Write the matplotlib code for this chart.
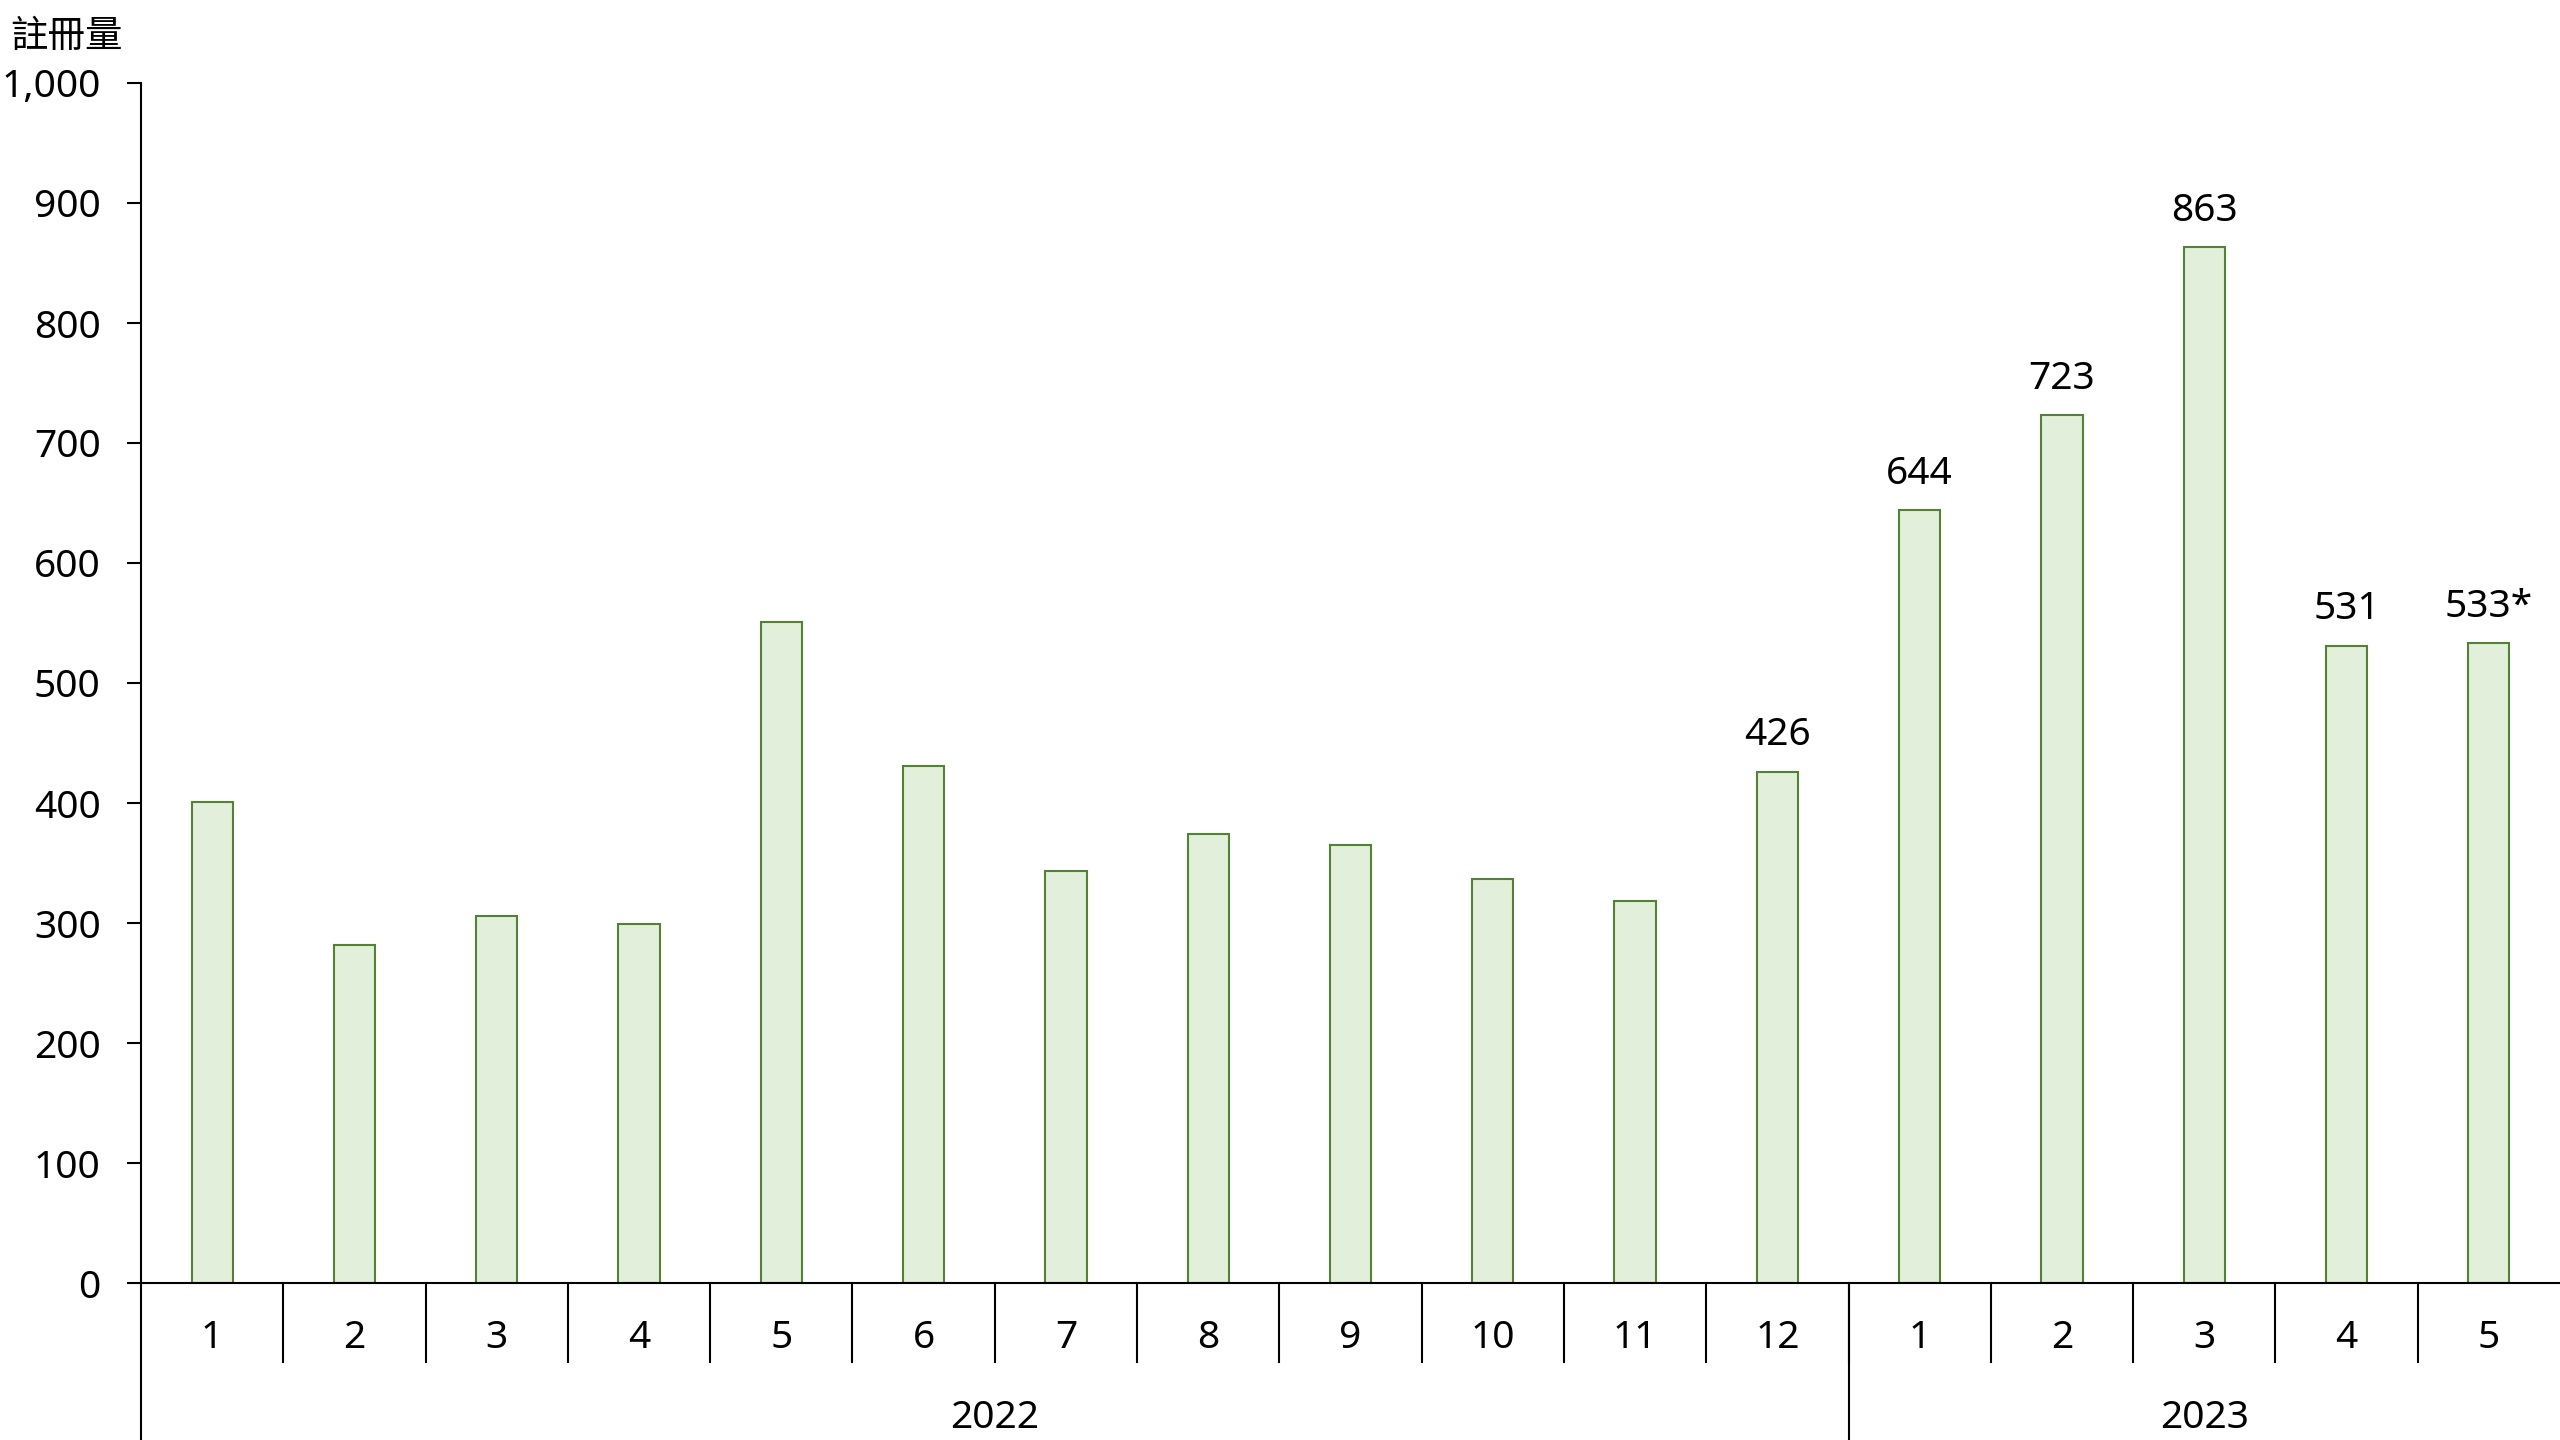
import matplotlib.pyplot as plt
import matplotlib.transforms as mtransforms
from matplotlib.ticker import FuncFormatter

plt.rcParams['font.family'] = ['Noto Sans', 'Noto Sans CJK TC', 'DejaVu Sans']

# 數據
months = ["1", "2", "3", "4", "5", "6", "7", "8", "9", "10", "11", "12",
          "1", "2", "3", "4", "5"]
years = ["2022", "2023"]
months_per_year = [12, 5]
values = [401, 282, 306, 299, 551, 431, 343, 374, 365, 337, 318, 426,
          644, 723, 863, 531, 533]
# 只有部分柱子有數值標籤
labels = ["", "", "", "", "", "", "", "", "", "", "", "426",
          "644", "723", "863", "531", "533*"]

fill_color = "#E2EFDA"
edge_color = "#548235"
fs = 28

fig = plt.figure(figsize=(25.6, 14.4), dpi=100)
ax = fig.add_axes([141 / 2560, 157 / 1440, 1 - 141 / 2560, (1283 - 83) / 1440])

x = list(range(len(months)))
bars = ax.bar(x, values, width=0.29, color=fill_color, edgecolor=edge_color, linewidth=1.5)

for b, lab in zip(bars, labels):
    if lab:
        ax.annotate(lab, (b.get_x() + b.get_width() / 2, b.get_height()),
                    xytext=(0, 19), textcoords="offset points",
                    ha="center", va="baseline", fontsize=fs)

ax.set_xlim(-0.5, len(months) - 0.5)
ax.set_ylim(0, 1000)
ax.set_yticks(range(0, 1001, 100))
ax.yaxis.set_major_formatter(FuncFormatter(lambda v, p: f"{int(v):,}"))
ax.tick_params(axis="y", direction="out", length=10, width=1.5, pad=19, labelsize=fs)

ax.set_xticks(x)
ax.set_xticklabels(months, fontsize=fs)
ax.tick_params(axis="x", length=0, pad=26)

for s in ["top", "right"]:
    ax.spines[s].set_visible(False)
for s in ["left", "bottom"]:
    ax.spines[s].set_linewidth(1.5)
    ax.spines[s].set_color("black")

# 分類分隔線
trans = mtransforms.blended_transform_factory(ax.transData, ax.transAxes)
h = 1200 / 1440  # axes height in figure fraction
short = -(79 / 1440) / h
long_ = -(157 / 1440) / h
for i in range(1, len(months)):
    ax.plot([i - 0.5, i - 0.5], [0, short], transform=trans, color="black",
            lw=1.5, clip_on=False)

# 年份分隔線與標籤
start = 0
for yr, n in zip(years, months_per_year):
    ax.plot([start - 0.5, start - 0.5], [0, long_], transform=trans, color="black",
            lw=1.5, clip_on=False)
    ax.text(start + (n - 1) / 2, -(135 / 1440) / h, yr, transform=trans,
            ha="center", va="center", fontsize=fs)
    start += n

fig.text(10 / 2560, 1 - 37 / 1440, "註冊量", ha="left", va="center", fontsize=27,
         family=['Noto Sans CJK TC', 'DejaVu Sans'])

fig.savefig("out.png", dpi=100)
